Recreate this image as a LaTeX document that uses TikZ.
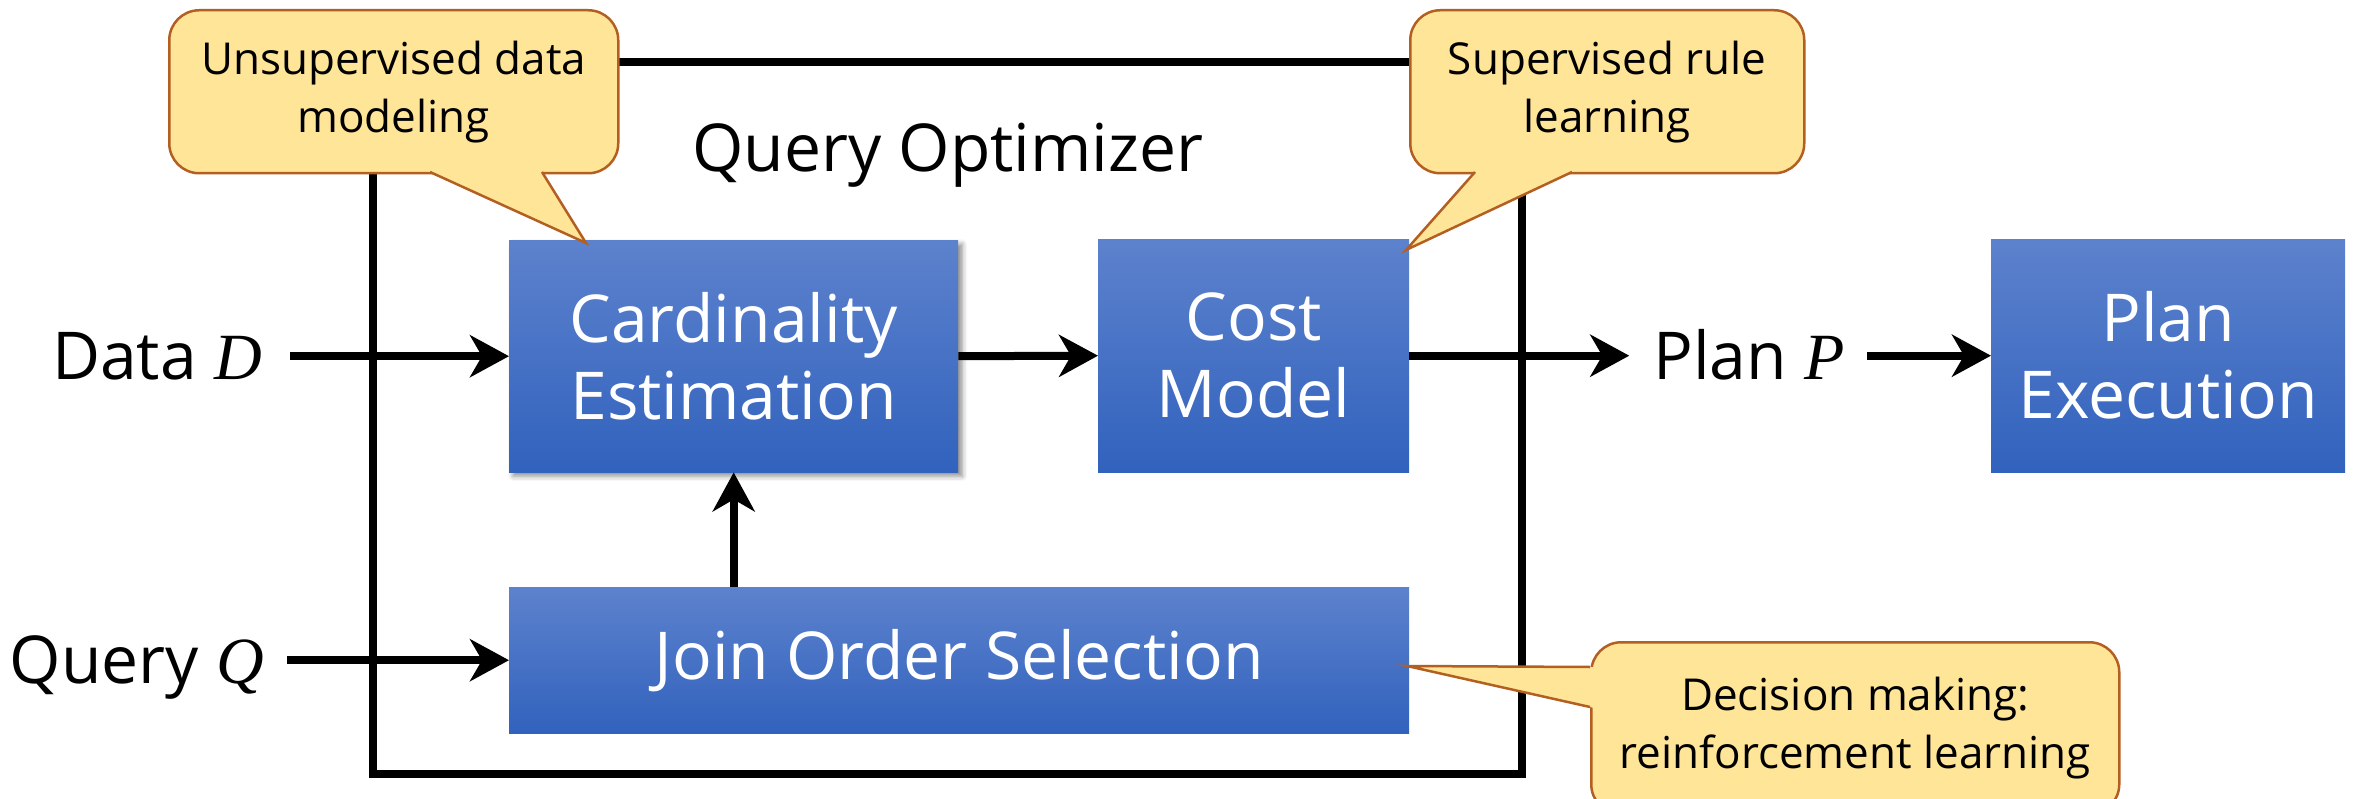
\documentclass[tikz,border=0pt]{standalone}
\usepackage{fontspec}
\setmainfont{Open Sans}
\newfontfamily\varfont{Liberation Serif}
\newcommand\mvar[1]{{\varfont\itshape #1}}
\usetikzlibrary{arrows.meta,calc,shadows.blur}

\definecolor{boxtop}{HTML}{5D82CD}
\definecolor{boxbot}{HTML}{3162BD}
\definecolor{calfill}{HTML}{FFE598}
\definecolor{caledge}{HTML}{B45F22}

\tikzset{
  big/.style={font=\fontsize{66}{77}\selectfont},
  lbl/.style={big, inner sep=0pt},
  block/.style={big, text=white, align=center, inner sep=0pt, anchor=north west,
    top color=boxtop, bottom color=boxbot, draw=none},
  frame/.style={line width=8pt, black},
  arr/.style={line width=8pt, black, -{Stealth[length=39pt,width=42pt,inset=12pt]}},
  callout/.style={draw=caledge, fill=calfill, line width=2.5pt, rounded corners=30pt,
    anchor=north west, inner sep=0pt, align=center,
    font=\fontsize{44}{58}\selectfont},
  tailedge/.style={draw=caledge, line width=2.5pt, line join=miter}
}

\begin{document}
\begin{tikzpicture}[x=1pt, y=-1pt]
\useasboundingbox (0,0) rectangle (2361,799);

% optimizer frame
\draw[frame] (373,62) rectangle (1522,774);
\node[big, anchor=base] (title) at (948,172) {Query Optimizer};

% processing blocks
\node[block, minimum width=449pt, minimum height=232pt,
  blur shadow={shadow xshift=4pt, shadow yshift=-4pt, shadow blur radius=5pt, shadow opacity=45}]
  (card) at (509,240) {Cardinality\\Estimation};
\node[block, minimum width=311pt, minimum height=233pt] (cost) at (1098,239) {Cost\\Model};
\node[block, minimum width=354pt, minimum height=233pt] (exec) at (1991,239) {Plan\\Execution};
\node[block, minimum width=900pt, minimum height=146pt] (join) at (509,587) {Join Order Selection};

% inputs and output labels
\node[lbl, anchor=base east] (data) at (262,380) {Data \mvar{D}};
\node[lbl, anchor=base east] (query) at (264,683) {Query \mvar{Q}};
\node[lbl, anchor=base] (plan) at (1749,380) {Plan \mvar{P}};

% flow
\draw[arr] (data.east |- card.west) ++(28,0) -- (card.west);
\draw[arr] (query.east |- join.west) ++(23,0) -- (join.west);
\draw[arr] (card.east) -- (cost.west);
\draw[arr, shorten >=24pt] (cost.east) -- (plan.west |- cost.east);
\draw[arr] (plan.east |- exec.west) ++(22,0) -- (exec.west);
\draw[arr] (join.north -| card.south) -- (card.south);

% annotation callouts
\node[callout, minimum width=449pt, minimum height=163pt] (c1) at (168,9) {Unsupervised data\\modeling};
\coordinate (t1) at (586,243);
\coordinate (a1) at (430,172);
\coordinate (b1) at (542,172);
\fill[calfill] (t1) -- ($(a1)!-0.06!(t1)$) -- ($(b1)!-0.06!(t1)$) -- cycle;
\draw[tailedge] (a1) -- (t1) -- (b1);

\node[callout, minimum width=394pt, minimum height=163pt] (c2) at (1409,9) {Supervised rule\\learning};
\coordinate (t2) at (1406,250);
\coordinate (a2) at (1475,172);
\coordinate (b2) at (1572,172);
\fill[calfill] (t2) -- ($(a2)!-0.06!(t2)$) -- ($(b2)!-0.06!(t2)$) -- cycle;
\draw[tailedge] (a2) -- (t2) -- (b2);

\node[callout, minimum width=528pt, minimum height=172pt] (c3) at (1590,641) {Decision making:\\reinforcement learning};
\coordinate (t3) at (1407,666);
\coordinate (a3) at (1590,667);
\coordinate (b3) at (1590,707);
\fill[calfill] (t3) -- ($(a3)!-0.04!(t3)$) -- ($(b3)!-0.04!(t3)$) -- cycle;
\draw[tailedge] (a3) -- (t3) -- (b3);
\end{tikzpicture}
\end{document}
